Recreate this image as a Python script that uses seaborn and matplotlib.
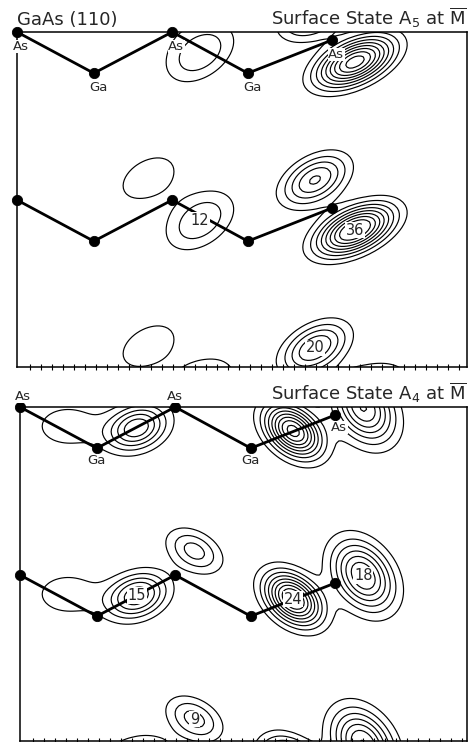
import numpy as np
import matplotlib
matplotlib.use("Agg")
import matplotlib.pyplot as plt
import seaborn as sns

# ---- Surface geometry of GaAs(110): zigzag As-Ga chains (x along surface, z = depth, in Å)
atom_species = ["As", "Ga", "As", "Ga", "As"]
atom_x = [0.0, 1.92, 3.88, 5.77, 7.88]
atom_z = [0.0, 1.03, 0.0, 1.03, 0.2]
layer_period = 4.2
layer_shifts = [0.0, 4.2]

# ---- Charge-density maxima of surface state A5 at M-bar
a5_x = [3.28, 4.58, 7.45, 8.45]
a5_z = [3.65, 4.72, 3.70, 4.95]
a5_peak = [7, 12, 20, 36]
a5_sig_major = [0.83, 0.70, 0.63, 0.705]
a5_sig_minor = [0.52, 0.45, 0.375, 0.35]
a5_tilt = [30, 35, 30, 25]
a5_levels = 5 + 3.6 * np.arange(10)
a5_label_blob = [1, 3, 2]      # which maximum carries a value label
a5_label_layer = [0, 0, 1]     # in which repeat of the layer

# ---- Charge-density maxima of surface state A4 at M-bar
a4_x = [4.36, 2.92, 1.20, 6.83, 8.58]
a4_z = [3.60, 4.72, 4.68, 4.80, 4.22]
a4_peak = [9, 15, 4.5, 24, 18]
a4_sig_major = [0.50, 0.52, 0.65, 0.54, 0.64]
a4_sig_minor = [0.32, 0.36, 0.42, 0.36, 0.45]
a4_tilt = [-30, 20, 0, -40, -55]
a4_levels = 2.75 + 2.5 * np.arange(10)
a4_label_blob = [0, 1, 3, 4]
a4_label_layer = [1, 0, 0, 0]


def density(X, Z, xs, zs, peaks, sa, sb, tilt, period):
    F = np.zeros_like(X)
    for x0, z0, A, s1, s2, t in zip(xs, zs, peaks, sa, sb, tilt):
        t = np.radians(t)
        for k in (-1, 0, 1):
            dx = X - x0
            dz = Z - (z0 + k * period)
            u = dx * np.cos(t) - dz * np.sin(t)
            v = dx * np.sin(t) + dz * np.cos(t)
            F += A * np.exp(-0.5 * (u ** 2 / s1 ** 2 + v ** 2 / s2 ** 2))
    return F


sns.set_theme(style="white")
plt.rcParams["font.family"] = ["DejaVu Sans"]
plt.rcParams["mathtext.fontset"] = "dejavusans"
plt.rcParams["mathtext.default"] = "regular"
plt.rcParams["axes.edgecolor"] = "black"
plt.rcParams["axes.linewidth"] = 1.1

W, H = 471, 742
fig = plt.figure(figsize=(W / 100, H / 100), dpi=100)
fig.patch.set_facecolor("white")
ax1 = fig.add_axes([17 / W, 1 - 367 / H, 450 / W, 335 / H])
ax2 = fig.add_axes([20 / W, 1 - 741 / H, 447 / W, 334 / H])

xg = np.arange(-0.5, 12.0, 0.07)
zg = np.arange(-0.5, 9.2, 0.07)
X, Z = np.meshgrid(xg, zg)

panels = [
    dict(ax=ax1, ext=(11.25, 8.375), field=(a5_x, a5_z, a5_peak, a5_sig_major, a5_sig_minor, a5_tilt),
         levels=a5_levels, lab_blob=a5_label_blob, lab_layer=a5_label_layer, state="5"),
    dict(ax=ax2, ext=(11.175, 8.35), field=(a4_x, a4_z, a4_peak, a4_sig_major, a4_sig_minor, a4_tilt),
         levels=a4_levels, lab_blob=a4_label_blob, lab_layer=a4_label_layer, state="4"),
]

label_box = dict(facecolor="white", edgecolor="none", pad=0.6)

for i, p in enumerate(panels):
    ax = p["ax"]
    xs, zs, peaks, sa, sb, tilt = p["field"]
    F = density(X, Z, xs, zs, peaks, sa, sb, tilt, layer_period)
    ax.contour(X, Z, F, levels=p["levels"], colors="black", linewidths=0.85)

    # bonds and atoms of the two chains
    for shift in layer_shifts:
        zz = [z + shift for z in atom_z]
        sns.lineplot(x=atom_x, y=zz, sort=False, estimator=None, color="black",
                     linewidth=2.0, ax=ax, zorder=4)
        sns.scatterplot(x=atom_x, y=zz, color="black", s=55, edgecolor="black",
                        ax=ax, zorder=5, clip_on=False)

    # value labels at selected maxima
    for b, lay in zip(p["lab_blob"], p["lab_layer"]):
        ax.text(xs[b], zs[b] + lay * layer_period, f"{peaks[b]:g}", ha="center", va="center",
                fontsize=10.5, zorder=6, bbox=label_box)

    ax.set_xlim(0, p["ext"][0])
    ax.set_ylim(p["ext"][1], 0)
    ax.set_xticks(np.arange(0.32, p["ext"][0], 0.275))
    ax.set_yticks([])
    ax.tick_params(axis="x", which="both", direction="inout", length=5, width=0.8,
                   bottom=True, top=False, labelbottom=False, color="black")
    for s in ax.spines.values():
        s.set_visible(True)
        s.set_color("black")

    ax.annotate(r"Surface State A$_{%s}$ at $\overline{\mathrm{M}}$" % p["state"],
                xy=(1, 1), xycoords="axes fraction", xytext=(0, 5), textcoords="offset points",
                ha="right", va="baseline", fontsize=13)

# atom labels on the surface chain
for sp, x, z in zip(atom_species, atom_x, atom_z):
    ax1.annotate(sp, (x, z), xytext=(3, -10.5), textcoords="offset points",
                 ha="center", va="center", fontsize=9.5, zorder=7,
                 bbox=dict(facecolor="white", edgecolor="none", pad=0.2))

a4_lab_off = [(2, 7.5), (0, -9), (0, 7.5), (0, -9), (3, -9)]
for sp, x, z, off in zip(atom_species, atom_x, atom_z, a4_lab_off):
    ax2.annotate(sp, (x, z), xytext=off, textcoords="offset points",
                 ha="center", va="center", fontsize=9.5, zorder=7, annotation_clip=False,
                 bbox=dict(facecolor="white", edgecolor="none", pad=0.2))

ax1.annotate("GaAs (110)", xy=(0, 1), xycoords="axes fraction", xytext=(0, 5),
             textcoords="offset points", ha="left", va="baseline", fontsize=13)

fig.savefig("out.png", dpi=100, facecolor="white")
